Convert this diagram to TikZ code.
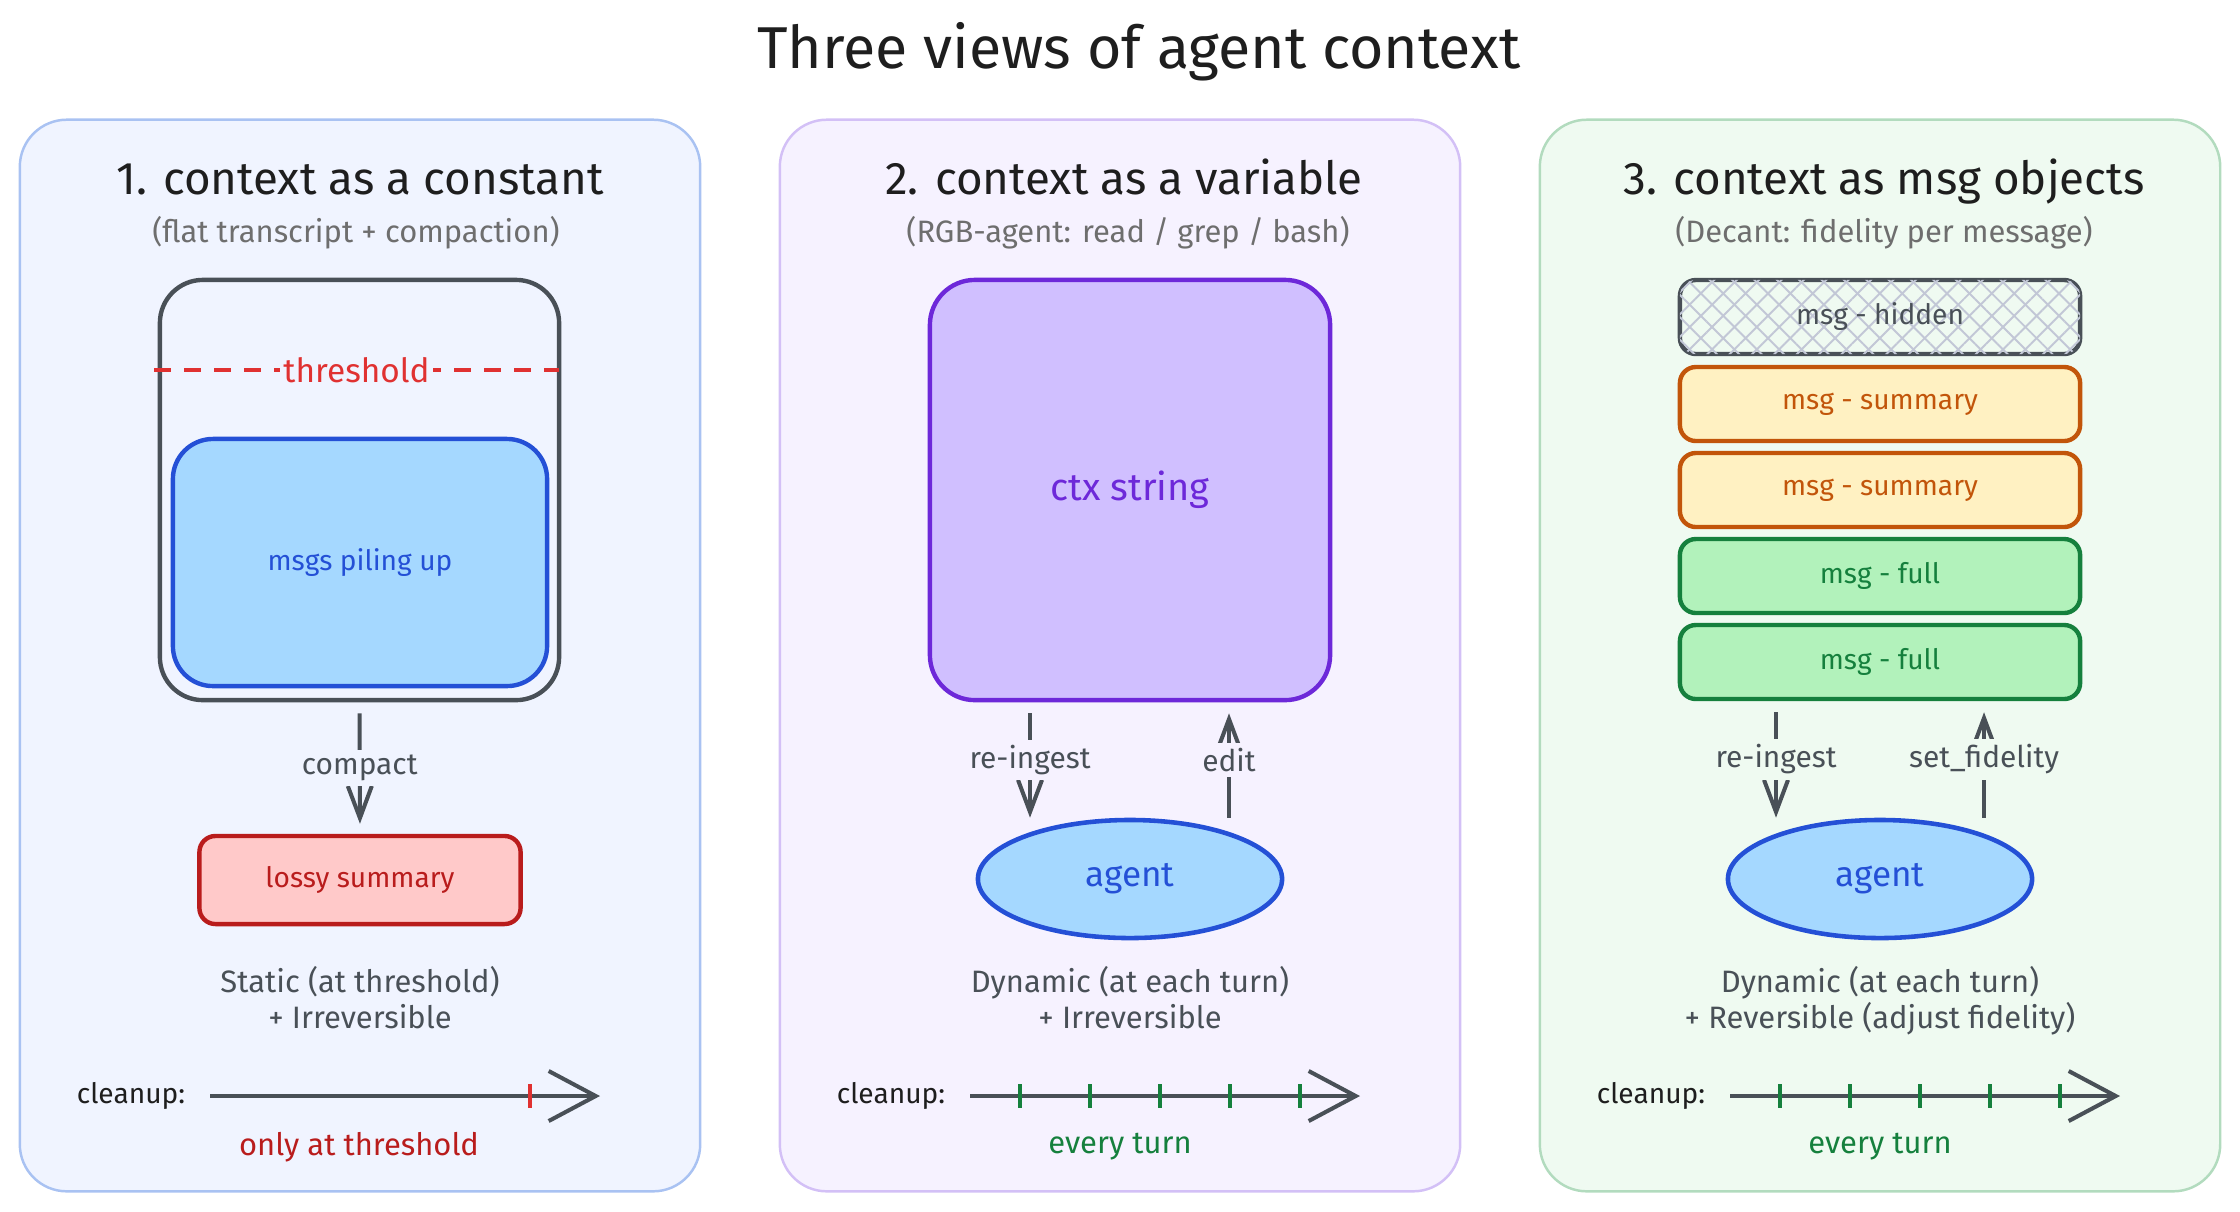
\documentclass[tikz,border=0pt]{standalone}
\usepackage{fontspec}
\setmainfont{Fira Sans}
\usetikzlibrary{positioning,arrows.meta,shapes.geometric,patterns.meta}
\definecolor{ink}{HTML}{1E1E1E}
\definecolor{slate}{HTML}{495057}
\definecolor{greytxt}{HTML}{6E6E6E}
\definecolor{bgA}{HTML}{F0F4FF}
\definecolor{bdA}{HTML}{A9C2F2}
\definecolor{bgB}{HTML}{F6F2FF}
\definecolor{bdB}{HTML}{D3C0F6}
\definecolor{bgC}{HTML}{EFFAF1}
\definecolor{bdC}{HTML}{B2DBBE}
\definecolor{bluef}{HTML}{A5D8FF}
\definecolor{bluel}{HTML}{2450D6}
\definecolor{redl}{HTML}{E03131}
\definecolor{redd}{HTML}{B91C1C}
\definecolor{redf}{HTML}{FFC9C9}
\definecolor{purf}{HTML}{D0BFFF}
\definecolor{purl}{HTML}{6D28D9}
\definecolor{orf}{HTML}{FFF1C2}
\definecolor{orl}{HTML}{C2550A}
\definecolor{grf}{HTML}{B2F2BB}
\definecolor{grl}{HTML}{15803D}
\definecolor{hatch}{HTML}{C2C7D6}

\begin{document}
\begin{tikzpicture}[x=0.01cm, y=-0.01cm,
  panel/.style 2 args={rectangle, rounded corners=0.47cm, draw=#1, fill=#2, line width=0.7pt,
                       minimum width=6.8cm, minimum height=10.71cm},
  bx/.style 2 args={rectangle, rounded corners=0.16cm, draw=#1, fill=#2, text=#1, line width=1.25pt,
                    font=\fontsize{8}{10}\selectfont},
  hd/.style={font=\fontsize{13}{15}\selectfont, text=ink, text height=0.75em, text depth=0.25em},
  sub/.style={font=\fontsize{8.8}{10}\selectfont, text=greytxt, text height=0.75em, text depth=0.25em},
  note/.style={font=\fontsize{8.8}{10.2}\selectfont, text=slate, align=center},
  lab/.style={fill=#1, inner sep=1.5pt, font=\fontsize{8.5}{10}\selectfont, text=slate},
  ag/.style={ellipse, draw=bluel, fill=bluef, text=bluel, line width=1.3pt, inner sep=0pt,
             minimum width=3.04cm, minimum height=1.18cm, font=\fontsize{10}{12}\selectfont},
  fl/.style={-{Straight Barb[length=0.32cm, width=0.24cm]}, draw=slate, line width=1.15pt},
  cl/.style={-{Straight Barb[length=0.47cm, width=0.5cm]}, draw=slate, line width=1.15pt},
  tk/.style={draw=#1, line width=1pt},
  cleanlab/.style={font=\fontsize{8}{10}\selectfont, text=ink}]
\useasboundingbox (0,0) rectangle (2240,1211);

\node[font=\fontsize{16.8}{20}\selectfont, text=ink] (title) at (1139,52) {Three views of agent context};

% panels
\node[panel={bdA}{bgA}] (p1) at (360,655.5) {};
\node[panel={bdB}{bgB}] (p2) at (1120,655.5) {};
\node[panel={bdC}{bgC}] (p3) at (1880,655.5) {};

\node[hd] (h1) at (360,186) {1. context as a constant};
\node[sub] (s1) at (356,234) {(flat transcript + compaction)};
\node[hd] (h2) at (1124,186) {2. context as a variable};
\node[sub] (s2) at (1128,234) {(RGB-agent: read / grep / bash)};
\node[hd] (h3) at (1884,186) {3. context as msg objects};
\node[sub] (s3) at (1884,234) {(Decant: fidelity per message)};

% 1. constant
\node[bx={slate}{bgA}, rounded corners=0.43cm, minimum width=3.99cm, minimum height=4.2cm] (win) at (359.5,490) {};
\node[bx={bluel}{bluef}, rounded corners=0.4cm, minimum width=3.74cm, minimum height=2.47cm] (pile) at (360,562.5) {msgs piling up};
\coordinate (thl) at (154,370);
\coordinate (thr) at (559,370);
\draw[redl, line width=1.3pt, dash pattern=on 0.17cm off 0.13cm] (thl) -- (thr)
  node[midway, fill=bgA, inner sep=1pt, text=redl, font=\fontsize{9.5}{10}\selectfont] (thr1) {threshold};
\node[bx={redd}{redf}, minimum width=3.21cm, minimum height=0.88cm] (lossy) at (360,880) {lossy summary};
\draw[fl, shorten <=0.11cm, shorten >=0.1cm] (win.south) -- (lossy.north)
  node[lab=bgA, midway] {compact};
\node[note] (n1) at (360,998) {Static (at threshold)\\+ Irreversible};
\node[cleanlab] (c1) at (131,1096) {cleanup:};
\coordinate (cs1) at (210,1096);
\coordinate (ce1) at (600,1096);
\draw[cl] (cs1) -- (ce1);
\draw[tk=redl] (530,1084) -- (530,1108);
\node[note, text=redd] (w1) at (359,1147) {only at threshold};

% 2. variable
\node[bx={purl}{purf}, rounded corners=0.45cm, minimum width=4cm, minimum height=4.2cm,
      font=\fontsize{10.8}{12}\selectfont] (ctx) at (1130,490) {ctx string};
\node[ag] (ag2) at (1130,879) {agent};
\coordinate (ri2) at (1030,760);
\coordinate (ed2) at (1229,760);
\draw[fl, shorten <=0.11cm] (ri2 |- ctx.south) -- (ri2 |- ag2.north)
  node[lab=bgB, midway] {re-ingest};
\draw[fl, shorten >=0.11cm] (ed2 |- ag2.north) -- (ed2 |- ctx.south)
  node[lab=bgB, midway] {edit};
\node[note] (n2) at (1130,998) {Dynamic (at each turn)\\+ Irreversible};
\node[cleanlab] (c2) at (891,1096) {cleanup:};
\coordinate (cs2) at (970,1096);
\coordinate (ce2) at (1360,1096);
\draw[cl] (cs2) -- (ce2);
\foreach \k in {0,...,4} {\draw[tk=grl] (1020+70*\k,1084) -- +(0,24);}
\node[note, text=grl] (w2) at (1120,1147) {every turn};

% 3. msg objects
\node[bx={slate}{bgC}, minimum width=4cm, minimum height=0.74cm,
      postaction={pattern={Lines[angle=45, distance=4.5pt, line width=0.55pt]}, pattern color=hatch},
      postaction={pattern={Lines[angle=-45, distance=4.5pt, line width=0.55pt]}, pattern color=hatch}] (m1) at (1880,317) {};
\node[text=slate, font=\fontsize{8}{10}\selectfont] (m1t) at (m1) {msg - hidden};
\node[bx={orl}{orf}, minimum width=4cm, minimum height=0.74cm] (m2) at (1880,404) {msg - summary};
\node[bx={orl}{orf}, minimum width=4cm, minimum height=0.74cm] (m3) at (1880,490) {msg - summary};
\node[bx={grl}{grf}, minimum width=4cm, minimum height=0.74cm] (m4) at (1880,576) {msg - full};
\node[bx={grl}{grf}, minimum width=4cm, minimum height=0.74cm] (m5) at (1880,662) {msg - full};
\node[ag] (ag3) at (1880,879) {agent};
\coordinate (ri3) at (1776,760);
\coordinate (sf3) at (1984,760);
\draw[fl, shorten <=0.11cm] (ri3 |- m5.south) -- (ri3 |- ag3.north)
  node[lab=bgC, midway] {re-ingest};
\draw[fl, shorten >=0.11cm] (sf3 |- ag3.north) -- (sf3 |- m5.south)
  node[lab=bgC, midway] {set\_fidelity};
\node[note] (n3) at (1880,1001) {Dynamic (at each turn)\\+ Reversible (adjust fidelity)};
\node[cleanlab] (c3) at (1651,1096) {cleanup:};
\coordinate (cs3) at (1730,1096);
\coordinate (ce3) at (2120,1096);
\draw[cl] (cs3) -- (ce3);
\foreach \k in {0,...,4} {\draw[tk=grl] (1780+70*\k,1084) -- +(0,24);}
\node[note, text=grl] (w3) at (1880,1147) {every turn};
\end{tikzpicture}
\end{document}
